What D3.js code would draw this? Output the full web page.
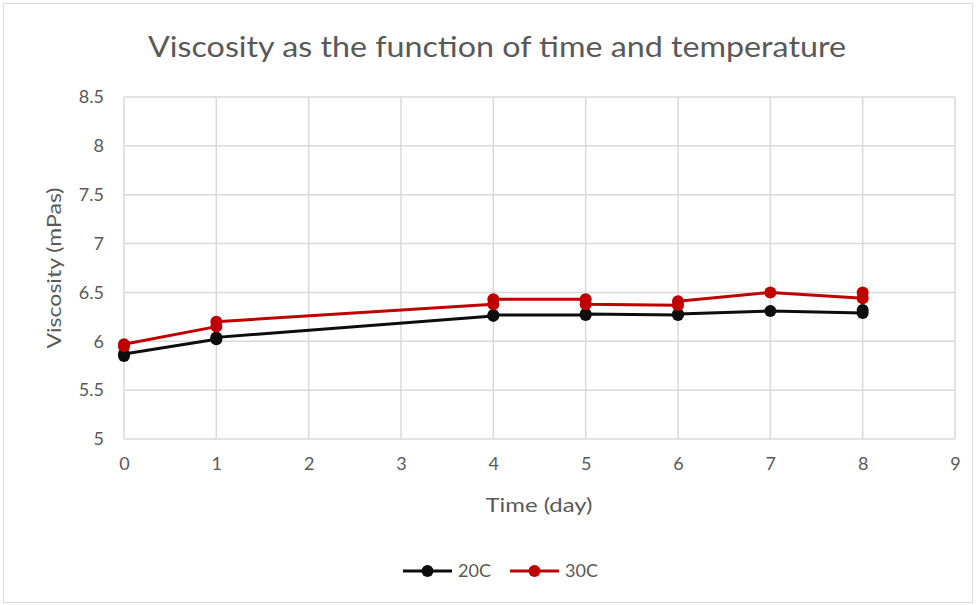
<!DOCTYPE html>
<html>
<head>
<meta charset="utf-8">
<script src="https://cdn.jsdelivr.net/npm/d3@7"></script>
<style>
  html, body { margin: 0; padding: 0; background: #fff; }
  svg { display: block; font-family: Lato, "Open Sans", sans-serif; }
</style>
</head>
<body>
<svg id="chart" width="977" height="605"></svg>
<script>
// Measurements: day of reading and viscosity (mPas); duplicate readings per day
const days = [0, 0, 1, 1, 4, 4, 5, 5, 6, 6, 7, 8, 8];
const visc20 = [5.85, 5.87, 6.02, 6.04, 6.26, 6.27, 6.27, 6.28, 6.27, 6.28, 6.31, 6.29, 6.32];
const visc30 = [5.95, 5.97, 6.15, 6.20, 6.38, 6.43, 6.43, 6.38, 6.37, 6.41, 6.50, 6.44, 6.50];
const seriesNames = ["20C", "30C"];
const seriesColors = ["#0d0d0d", "#c00000"];
const xTicks = [0, 1, 2, 3, 4, 5, 6, 7, 8, 9];
const yTicks = [5, 5.5, 6, 6.5, 7, 7.5, 8, 8.5];

const svg = d3.select("#chart");
const W = 977, H = 605;
const textColor = "#595959";
const gridColor = "#d9d9d9";

// chart frame
svg.append("rect")
  .attr("x", 3.5).attr("y", 3.5)
  .attr("width", W - 8).attr("height", H - 6)
  .attr("fill", "#fff").attr("stroke", "#d9d9d9");

const plot = { left: 124, right: 955, top: 97, bottom: 439 };
const x = d3.scaleLinear().domain([0, 9]).range([plot.left, plot.right]);
const y = d3.scaleLinear().domain([5, 8.5]).range([plot.bottom, plot.top]);

// gridlines
const grid = svg.append("g");
grid.selectAll("line.h").data(yTicks).join("line")
  .attr("x1", plot.left).attr("x2", plot.right)
  .attr("y1", d => y(d)).attr("y2", d => y(d))
  .attr("stroke", gridColor).attr("stroke-width", 1.5);
grid.selectAll("line.v").data(xTicks).join("line")
  .attr("y1", plot.top).attr("y2", plot.bottom)
  .attr("x1", d => x(d)).attr("x2", d => x(d))
  .attr("stroke", gridColor).attr("stroke-width", 1.5);

// axes (labels only, lines come from the grid)
const yAxis = svg.append("g")
  .attr("transform", `translate(${plot.left - 20},0)`)
  .call(d3.axisLeft(y).tickValues(yTicks).tickSize(0).tickPadding(0).tickFormat(d3.format("")));
yAxis.select(".domain").remove();
yAxis.selectAll("text").attr("fill", textColor).style("font-size", "18px").style("font-family", "Lato, sans-serif");

const xAxis = svg.append("g")
  .attr("transform", `translate(0,${plot.bottom + 18})`)
  .call(d3.axisBottom(x).tickValues(xTicks).tickSize(0).tickPadding(0).tickFormat(d3.format("d")));
xAxis.select(".domain").remove();
xAxis.selectAll("text").attr("fill", textColor).style("font-size", "18px").style("font-family", "Lato, sans-serif");

// series
const series = [visc20, visc30].map((vals, i) => ({
  name: seriesNames[i],
  color: seriesColors[i],
  points: vals.map((v, j) => ({ day: days[j], v }))
}));

const line = d3.line().x(d => x(d.day)).y(d => y(d.v));
series.forEach(s => {
  const g = svg.append("g");
  g.append("path").datum(s.points)
    .attr("d", line).attr("fill", "none")
    .attr("stroke", s.color).attr("stroke-width", 3).attr("stroke-linejoin", "round");
  g.selectAll("circle").data(s.points).join("circle")
    .attr("cx", d => x(d.day)).attr("cy", d => y(d.v)).attr("r", 6)
    .attr("fill", s.color);
});

// titles
function fitText(sel, width) {
  const w = sel.node().getComputedTextLength();
  if (Math.abs(w - width) > 2) sel.attr("textLength", width).attr("lengthAdjust", "spacingAndGlyphs");
}

const title = svg.append("text")
  .attr("x", 497).attr("y", 57).attr("text-anchor", "middle")
  .attr("fill", textColor).style("font-size", "28px")
  .text("Viscosity as the function of time and temperature");
fitText(title, 698);

const xTitle = svg.append("text")
  .attr("x", 539).attr("y", 512).attr("text-anchor", "middle")
  .attr("fill", textColor).style("font-size", "19px")
  .text("Time (day)");
fitText(xTitle, 107);

const yTitle = svg.append("text")
  .attr("transform", "translate(61,268) rotate(-90)")
  .attr("text-anchor", "middle")
  .attr("fill", textColor).style("font-size", "19px")
  .text("Viscosity (mPas)");
fitText(yTitle, 161);

// legend
const legendItems = [{ x0: 403, tx: 458 }, { x0: 510, tx: 565 }];
const legend = svg.append("g");
series.forEach((s, i) => {
  const L = legendItems[i];
  legend.append("line")
    .attr("x1", L.x0).attr("x2", L.x0 + 49).attr("y1", 571).attr("y2", 571)
    .attr("stroke", s.color).attr("stroke-width", 3);
  legend.append("circle")
    .attr("cx", L.x0 + 24.5).attr("cy", 571).attr("r", 6).attr("fill", s.color);
  legend.append("text")
    .attr("x", L.tx).attr("y", 577)
    .attr("fill", textColor).style("font-size", "18px")
    .text(s.name);
});
</script>
</body>
</html>
